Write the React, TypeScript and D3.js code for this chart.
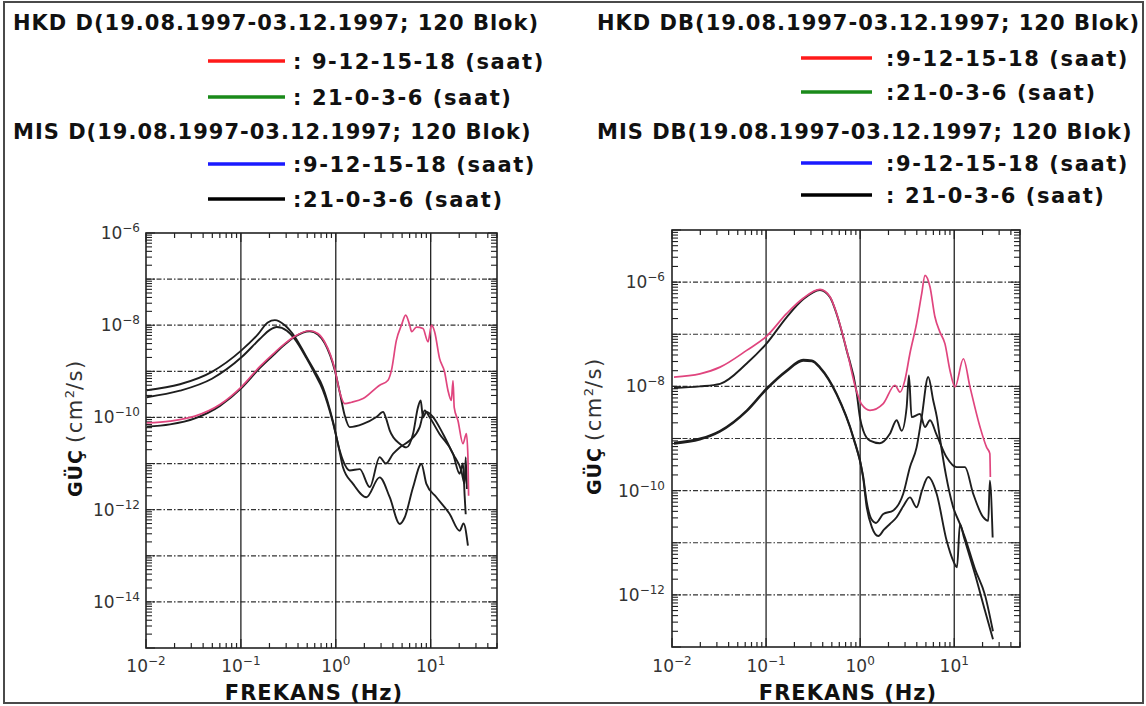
import React from 'react';
import * as d3 from 'd3';

type P = [number, number];

// ---------- axis values ----------
const xDomain: [number, number] = [0.01, 50];
const xLabelExps = [-2, -1, 0, 1];
const xGridValues = [0.1, 1, 10];
const leftYDomain: [number, number] = [1e-15, 1e-6];
const rightYDomain: [number, number] = [1e-13, 1e-5];
const leftYLabelExps = [-6, -8, -10, -12, -14];
const rightYLabelExps = [-6, -8, -10, -12];

// ---------- text ----------
const leftLegendTitles = ['HKD D(19.08.1997-03.12.1997; 120 Blok)', 'MIS D(19.08.1997-03.12.1997; 120 Blok)'];
const leftLegendItems = [': 9-12-15-18 (saat)', ': 21-0-3-6 (saat)', ':9-12-15-18 (saat)', ':21-0-3-6 (saat)'];
const rightLegendTitles = ['HKD DB(19.08.1997-03.12.1997; 120 Blok)', 'MIS DB(19.08.1997-03.12.1997; 120 Blok)'];
const rightLegendItems = [':9-12-15-18 (saat)', ':21-0-3-6 (saat)', ':9-12-15-18 (saat)', ': 21-0-3-6 (saat)'];
const xAxisTitle = 'FREKANS (Hz)';
const yAxisTitleMain = 'GÜÇ';

// ---------- left panel series [Hz, power] ----------
const leftPink: P[] = [
  [0.0102, 7.59e-11], [0.0179, 8.32e-11], [0.0328, 1.07e-10], [0.0601, 1.91e-10], [0.102, 4.68e-10],
  [0.158, 1.26e-9], [0.212, 2.24e-9], [0.29, 3.98e-9], [0.37, 5.75e-9], [0.532, 7.59e-9], [0.647, 6.61e-9],
  [0.766, 4.27e-9], [0.976, 1.12e-9], [1.1, 3.55e-10], [1.24, 2.0e-10], [1.47, 2.14e-10], [1.94, 2.57e-10],
  [2.9, 5.01e-10], [3.53, 6.31e-10], [3.86, 1.05e-9], [4.35, 4.68e-9], [4.92, 1.0e-8], [5.45, 1.66e-8],
  [6.01, 1.0e-8], [6.31, 7.24e-9], [7.07, 9.12e-9], [8.3, 8.51e-9], [9.37, 4.37e-9], [10.2, 1.0e-8],
  [11.0, 7.24e-9], [12.4, 1.91e-9], [14.0, 9.77e-10], [15.2, 3.89e-10], [16.5, 2.34e-10], [17.2, 6.31e-10],
  [17.7, 1.66e-10], [19.4, 8.51e-11], [21.9, 2.69e-11], [23.8, 4.47e-11], [24.7, 1.38e-11], [25.1, 2.0e-12],
];
const leftBlackA: P[] = [
  [0.0102, 3.89e-10], [0.0228, 5.25e-10], [0.0495, 9.77e-10], [0.102, 2.88e-9], [0.151, 6.31e-9],
  [0.192, 1.15e-8], [0.228, 1.29e-8], [0.29, 1.0e-8], [0.37, 5.62e-9], [0.492, 2.04e-9], [0.601, 1.0e-9],
  [0.73, 4.57e-10], [0.93, 8.51e-11], [1.1, 1.91e-11], [1.19, 1.17e-11], [1.4, 7.08e-12], [1.79, 7.59e-12],
  [2.28, 3.09e-12], [2.9, 1.38e-11], [3.36, 1.0e-11], [4.01, 1.62e-11], [4.72, 2.24e-11], [6.01, 3.16e-11],
  [7.66, 6.17e-11], [8.65, 1.41e-10], [9.72, 1.02e-10], [12.4, 4.37e-11], [17.2, 1.62e-11], [20.2, 6.03e-12],
  [21.9, 1.0e-11], [22.8, 2.0e-12], [23.4, 7.94e-13],
];
const leftBlackB: P[] = [
  [0.0102, 2.75e-10], [0.0228, 3.8e-10], [0.0495, 6.92e-10], [0.102, 2.04e-9], [0.158, 5.01e-9],
  [0.202, 7.94e-9], [0.239, 9.12e-9], [0.305, 7.59e-9], [0.37, 5.01e-9], [0.492, 1.91e-9], [0.601, 8.91e-10],
  [0.73, 3.98e-10], [0.93, 7.94e-11], [1.1, 1.78e-11], [1.19, 8.32e-12], [1.52, 3.63e-12], [2.1, 1.86e-12],
  [2.9, 5.01e-12], [3.7, 1.86e-12], [4.72, 4.9e-13], [5.32, 6.76e-13], [6.51, 3.02e-12], [7.98, 9.77e-12],
  [9.01, 3.63e-12], [11.5, 1.86e-12], [15.8, 8.13e-13], [20.2, 3.47e-13], [22.2, 5.01e-13], [24.7, 1.66e-13],
];
const leftBlackC: P[] = [
  [0.0102, 6.31e-11], [0.0179, 7.08e-11], [0.0328, 9.55e-11], [0.0601, 1.78e-10], [0.102, 4.37e-10],
  [0.158, 1.17e-9], [0.212, 2.09e-9], [0.29, 3.8e-9], [0.37, 5.62e-9], [0.532, 7.41e-9], [0.647, 6.31e-9],
  [0.766, 4.07e-9], [0.976, 1.05e-9], [1.1, 3.55e-10], [1.24, 1.12e-10], [1.4, 6.17e-11], [1.94, 7.24e-11],
  [2.68, 1.02e-10], [3.15, 1.32e-10], [3.36, 1.0e-10], [3.7, 5.25e-11], [4.72, 2.69e-11], [5.55, 2.24e-11],
  [6.51, 4.37e-11], [7.35, 1.66e-10], [7.85, 2.34e-10], [8.3, 1.0e-10], [9.01, 1.32e-10], [10.6, 1.02e-10],
  [13.5, 4.37e-11], [17.2, 1.62e-11], [21.0, 7.08e-12], [22.8, 3.63e-12], [23.4, 1.38e-11], [24.1, 2.82e-12],
];

// ---------- right panel series [Hz, power] ----------
const rightPink: P[] = [
  [0.0105, 1.51e-8], [0.0198, 1.74e-8], [0.0324, 2.34e-8], [0.0622, 4.9e-8], [0.101, 9.12e-8],
  [0.166, 2.51e-7], [0.248, 4.9e-7], [0.374, 7.24e-7], [0.478, 5.25e-7], [0.562, 2.51e-7], [0.719, 5.01e-8],
  [0.918, 7.94e-9], [1.04, 4.47e-9], [1.27, 3.47e-9], [1.76, 4.68e-9], [2.34, 1.05e-8], [2.65, 7.76e-9],
  [2.99, 1.32e-8], [3.38, 4.27e-8], [3.98, 1.62e-7], [4.51, 6.03e-7], [4.89, 1.35e-6], [5.52, 8.13e-7],
  [6.24, 2.14e-7], [7.05, 1.1e-7], [7.96, 6.61e-8], [9.0, 2.04e-8], [10.2, 9.77e-9], [12.5, 3.39e-8],
  [14.7, 9.77e-9], [18.8, 1.66e-9], [22.1, 6.76e-10], [23.9, 5.13e-10], [24.2, 1.82e-10],
];
const rightBlackD: P[] = [
  [0.0105, 9.33e-9], [0.0198, 1.0e-8], [0.0324, 1.12e-8], [0.0622, 2.75e-8], [0.101, 6.61e-8],
  [0.166, 2.14e-7], [0.248, 4.68e-7], [0.374, 7.08e-7], [0.478, 5.13e-7], [0.562, 2.45e-7], [0.719, 4.9e-8],
  [0.918, 7.59e-9], [0.995, 2.51e-9], [1.08, 1.41e-9], [1.27, 9.12e-10], [1.62, 8.13e-10], [2.07, 1.23e-9],
  [2.44, 2.24e-9], [2.76, 1.41e-9], [3.12, 3.98e-9], [3.3, 1.62e-8], [3.52, 2.57e-9], [4.32, 2.95e-9],
  [4.89, 1.66e-9], [5.52, 2.24e-9], [6.5, 1.17e-9], [8.3, 4.37e-10], [10.6, 2.82e-10], [13.0, 2.82e-10],
  [15.9, 8.71e-11], [20.3, 3.09e-11], [23.0, 2.63e-11], [23.9, 1.55e-10], [25.6, 1.26e-11],
];
const rightBlackE: P[] = [
  [0.0105, 8.32e-10], [0.0198, 1.0e-9], [0.0324, 1.41e-9], [0.0622, 3.47e-9], [0.101, 9.12e-9],
  [0.166, 2.04e-8], [0.248, 3.24e-8], [0.307, 3.16e-8], [0.374, 2.34e-8], [0.562, 7.24e-9], [0.845, 1.07e-9],
  [1.08, 1.82e-10], [1.17, 6.31e-11], [1.32, 2.82e-11], [1.47, 2.4e-11], [1.76, 3.55e-11], [2.25, 4.17e-11],
  [2.87, 8.71e-11], [3.38, 2.82e-10], [3.98, 6.76e-10], [4.51, 2.57e-9], [5.29, 1.51e-8], [5.98, 5.37e-9],
  [6.55, 2.51e-9], [7.05, 1.0e-9], [8.16, 2.0e-10], [9.68, 5.01e-11], [11.5, 2.29e-11], [13.0, 1.26e-11],
  [16.6, 3.16e-12], [21.2, 1.0e-12], [25.8, 2.0e-13],
];
const rightBlackF: P[] = [
  [0.0105, 7.94e-10], [0.0198, 9.55e-10], [0.0324, 1.35e-9], [0.0622, 3.31e-9], [0.101, 8.71e-9],
  [0.166, 1.95e-8], [0.248, 3.09e-8], [0.307, 3.02e-8], [0.374, 2.24e-8], [0.562, 6.92e-9], [0.845, 1.02e-9],
  [1.08, 1.66e-10], [1.17, 5.01e-11], [1.33, 2.0e-11], [1.56, 1.35e-11], [1.79, 1.78e-11], [2.07, 2.29e-11],
  [2.44, 3.09e-11], [2.87, 5.01e-11], [3.38, 7.41e-11], [3.98, 4.79e-11], [4.54, 1.0e-10], [5.29, 1.82e-10],
  [6.5, 8.71e-11], [8.3, 1.1e-11], [9.77, 4.47e-12], [10.7, 3.39e-12], [11.5, 2.29e-11], [12.7, 1.26e-11],
  [16.6, 2.51e-12], [21.2, 5.01e-13], [25.8, 1.41e-13],
];

const PINK = '#e0457e';
const INK = '#1e1e1e';
const LEGEND_COLORS = ['#ff1a1a', '#1a8a1a', '#1a1aff', '#000000'];

type PanelCfg = {
  left: number; right: number; top: number; bottom: number;
  yDomain: [number, number]; yLabels: number[]; labelX: number;
  titleX: number; titleY: number; xTitleX: number;
  black: P[][]; pink: P[];
};

function Sup({ base, exp, ...rest }: any) {
  return (
    <text {...rest}>
      {base}
      <tspan fontSize={12} dy={-7}>{exp < 0 ? '\u2212' + Math.abs(exp) : String(exp)}</tspan>
    </text>
  );
}

function Panel({ c }: { c: PanelCfg }) {
  const x = d3.scaleLog().domain(xDomain).range([c.left, c.right]);
  const y = d3.scaleLog().domain(c.yDomain).range([c.bottom, c.top]);
  const line = d3.line<P>().x((d) => x(d[0])).y((d) => y(d[1])).curve(d3.curveMonotoneX);

  const xTicks: { v: number; major: boolean }[] = [];
  for (let e = -2; e <= 1; e++) for (let k = 1; k <= 9; k++) {
    const v = k * Math.pow(10, e);
    if (v <= xDomain[1] * 1.0001) xTicks.push({ v, major: k === 1 });
  }
  const yTicks: { v: number; major: boolean }[] = [];
  const e0 = Math.round(Math.log10(c.yDomain[0]));
  const e1 = Math.round(Math.log10(c.yDomain[1]));
  for (let e = e0; e <= e1; e++) for (let k = 1; k <= 9; k++) {
    const v = k * Math.pow(10, e);
    if (v <= c.yDomain[1] * 1.0001) yTicks.push({ v, major: k === 1 });
  }
  const hGrid: number[] = [];
  for (let e = e0 + 1; e < e1; e++) hGrid.push(Math.pow(10, e));

  return (
    <g>
      {hGrid.map((v) => (
        <line key={'h' + v} x1={c.left} x2={c.right} y1={y(v)} y2={y(v)} stroke="#333" strokeWidth={1.2} strokeDasharray="5 2 1.5 2" />
      ))}
      {xGridValues.map((v) => (
        <line key={'v' + v} x1={x(v)} x2={x(v)} y1={c.top} y2={c.bottom} stroke="#222" strokeWidth={1.3} />
      ))}
      {xTicks.map((t, i) => (
        <g key={'xt' + i}>
          <line x1={x(t.v)} x2={x(t.v)} y1={c.bottom} y2={c.bottom - (t.major ? 9 : 5)} stroke="#222" strokeWidth={1.2} />
          <line x1={x(t.v)} x2={x(t.v)} y1={c.top} y2={c.top + (t.major ? 9 : 5)} stroke="#222" strokeWidth={1.2} />
        </g>
      ))}
      {yTicks.map((t, i) => (
        <g key={'yt' + i}>
          <line x1={c.left} x2={c.left + (t.major ? 9 : 6)} y1={y(t.v)} y2={y(t.v)} stroke="#222" strokeWidth={1.1} />
          <line x1={c.right} x2={c.right - (t.major ? 9 : 6)} y1={y(t.v)} y2={y(t.v)} stroke="#222" strokeWidth={1.1} />
        </g>
      ))}
      <rect x={c.left} y={c.top} width={c.right - c.left} height={c.bottom - c.top} fill="none" stroke="#222" strokeWidth={1.6} />

      {c.black.map((s, i) => (
        <path key={'b' + i} d={line(s) || ''} fill="none" stroke={INK} strokeWidth={1.9} strokeLinejoin="round" />
      ))}
      <path d={line(c.pink) || ''} fill="none" stroke={PINK} strokeWidth={1.7} strokeLinejoin="round" />

      {xLabelExps.map((e) => (
        <Sup key={'xl' + e} base="10" exp={e} x={x(Math.pow(10, e))} y={672} textAnchor="middle"
          fontFamily="DejaVu Sans" fontSize={17} fill="#333" />
      ))}
      {c.yLabels.map((e) => (
        <Sup key={'yl' + e} base="10" exp={e} x={c.labelX} y={y(Math.pow(10, e)) + 6} textAnchor="end"
          fontFamily="DejaVu Sans" fontSize={17} fill="#333" />
      ))}

      <text x={c.xTitleX} y={700} textAnchor="middle" fontFamily="DejaVu Sans" fontWeight="bold" fontSize={21} letterSpacing={1} fill="#111">
        {xAxisTitle}
      </text>
      <text transform={`translate(${c.titleX},${c.titleY}) rotate(-90)`} fontFamily="DejaVu Sans" fill="#111">
        <tspan fontWeight="bold" fontSize={19} letterSpacing={1}>{yAxisTitleMain}</tspan>
        <tspan fontSize={21} dx={6} fill="#333" letterSpacing={1.5}>(cm</tspan>
        <tspan fontSize={13} dy={-8} fill="#333">2</tspan>
        <tspan fontSize={21} dy={8} fill="#333" letterSpacing={1.5}>/s)</tspan>
      </text>
    </g>
  );
}

function Legend({ titles, items, titleX, lineX1, lineX2, textX, titleYs, lineYs }: any) {
  const font = { fontFamily: 'DejaVu Sans', fontWeight: 'bold' as const, fontSize: 21, fill: '#111' };
  return (
    <g>
      {titles.map((t: string, i: number) => (
        <text key={'t' + i} x={titleX} y={titleYs[i]} {...font} letterSpacing={1}>{t}</text>
      ))}
      {items.map((t: string, i: number) => (
        <g key={'i' + i}>
          <line x1={lineX1} x2={lineX2} y1={lineYs[i]} y2={lineYs[i]} stroke={LEGEND_COLORS[i]} strokeWidth={3.5} />
          <text x={textX} y={lineYs[i] + 8} {...font} letterSpacing={1.6}>{t}</text>
        </g>
      ))}
    </g>
  );
}

export default function App() {
  const leftCfg: PanelCfg = {
    left: 146, right: 497, top: 233, bottom: 648, yDomain: leftYDomain, yLabels: leftYLabelExps,
    labelX: 140, titleX: 82, titleY: 497, xTitleX: 314,
    black: [leftBlackA, leftBlackB, leftBlackC], pink: leftPink,
  };
  const rightCfg: PanelCfg = {
    left: 672, right: 1020, top: 230, bottom: 647, yDomain: rightYDomain, yLabels: rightYLabelExps,
    labelX: 665, titleX: 601, titleY: 495, xTitleX: 848,
    black: [rightBlackD, rightBlackE, rightBlackF], pink: rightPink,
  };
  return (
    <div style={{ position: 'absolute', left: 0, top: 0 }}>
      <svg width={1146} height={706} style={{ display: 'block', background: '#fff' }}>
        <rect x={0} y={0} width={1146} height={706} fill="#fff" />
        <rect x={4} y={2} width={1139} height={701} fill="none" stroke="#4a4a4a" strokeWidth={2} />
        <Legend titles={leftLegendTitles} items={leftLegendItems} titleX={13}
          lineX1={208} lineX2={285} textX={293} titleYs={[30, 139]} lineYs={[61, 97, 164, 199]} />
        <Legend titles={rightLegendTitles} items={rightLegendItems} titleX={597}
          lineX1={801} lineX2={872} textX={886} titleYs={[30, 139]} lineYs={[58, 92, 163, 195]} />
        <Panel c={leftCfg} />
        <Panel c={rightCfg} />
      </svg>
    </div>
  );
}
